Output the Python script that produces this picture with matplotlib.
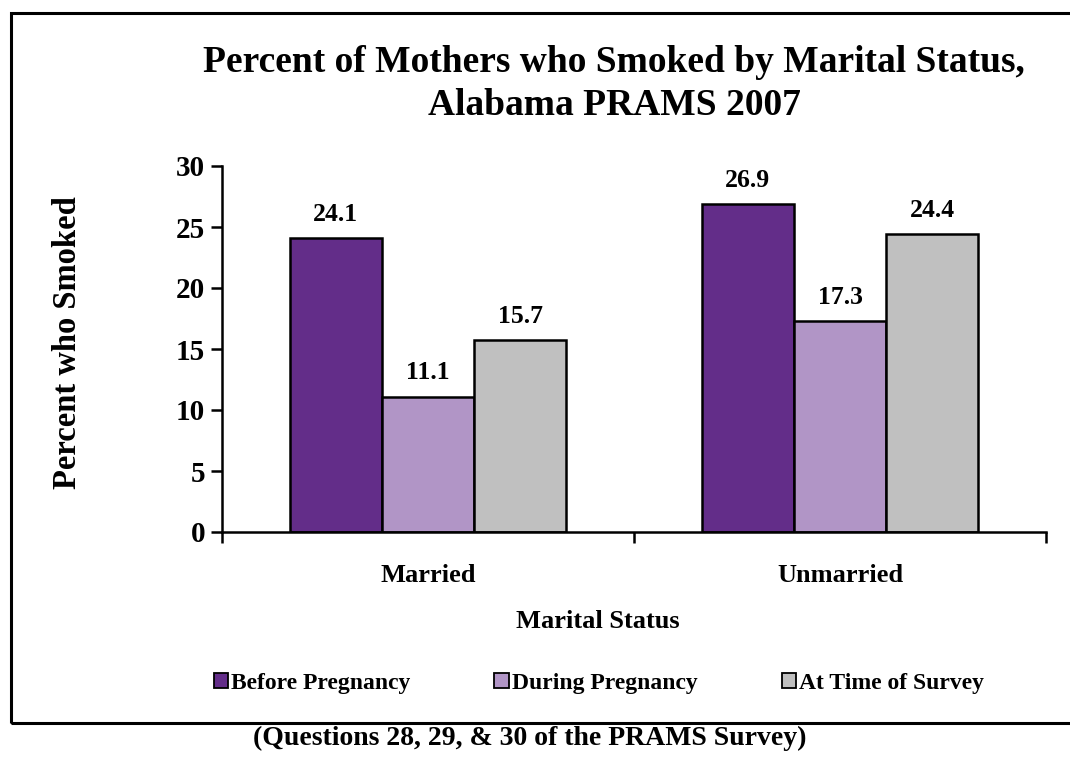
import numpy as np
import matplotlib
matplotlib.use('Agg')
import matplotlib.pyplot as plt
from matplotlib.patches import Rectangle

plt.rcParams['font.family'] = 'Liberation Serif'
plt.rcParams['font.weight'] = 'bold'

#Data
categories = ['Married', 'Unmarried']
series = ['Before Pregnancy', 'During Pregnancy', 'At Time of Survey']
before = [24.1, 26.9]
during = [11.1, 17.3]
survey = [15.7, 24.4]
colors = ['#632D89', '#B195C6', '#C0C0C0']

W, H = 1070, 758
fig = plt.figure(figsize=(W/100, H/100), dpi=100)

def fx(px):
    return px/W

def fy(py):
    return 1 - py/H

#outer frame (right side runs off the image)
fig.patches.append(Rectangle((fx(11), fy(723)), fx(1080)-fx(11), fy(13)-fy(723),
                             transform=fig.transFigure, fill=False, lw=2.2,
                             edgecolor='black', clip_on=False))

ax = fig.add_axes([fx(222), fy(532), fx(1046)-fx(222), fy(166)-fy(532)])

x = np.arange(len(categories))
w = 0.224
for i, (vals, c) in enumerate(zip([before, during, survey], colors)):
    pos = x + (i-1)*w
    ax.bar(pos, vals, w, color=c, edgecolor='black', linewidth=1.8, label=series[i], zorder=2)
    for p, v in zip(pos, vals):
        ax.text(p, v + 1.0, '%.1f' % v, ha='center', va='bottom', fontsize=18.5, fontweight='bold')

ax.set_xlim(-0.5, 1.5)
ax.set_ylim(0, 30)
ax.set_yticks(range(0, 31, 5))
ax.set_yticklabels([str(t) for t in range(0, 31, 5)], fontsize=21, fontweight='bold')
ax.tick_params(axis='y', length=8, width=1.8, direction='out', pad=4)
ax.set_xticks([-0.5, 0.5, 1.5])
ax.set_xticklabels([])
ax.tick_params(axis='x', length=8, width=1.8, direction='out')
ax.set_xticks(x, minor=True)
ax.set_xticklabels(categories, minor=True, fontsize=19, fontweight='bold')
ax.tick_params(axis='x', which='minor', length=0, pad=23)

for s in ['top', 'right']:
    ax.spines[s].set_visible(False)
for s in ['left', 'bottom']:
    ax.spines[s].set_linewidth(1.8)

fig.text(fx(68), fy(343), 'Percent who Smoked', rotation=90, ha='center', va='center',
         fontsize=23.5, fontweight='bold')
fig.text(fx(598), fy(621), 'Marital Status', ha='center', va='center',
         fontsize=19, fontweight='bold')

fig.text(fx(614), fy(84), 'Percent of Mothers who Smoked by Marital Status,\nAlabama PRAMS 2007',
         ha='center', va='center', fontsize=27, fontweight='bold', linespacing=1.3)

leg = fig.legend(loc='center', bbox_to_anchor=(fx(599), fy(683)), ncol=3, frameon=False,
                 prop={'size': 17, 'weight': 'bold'}, handlelength=0.6, handleheight=0.6,
                 handletextpad=0.15, columnspacing=3.55)
for h in leg.legend_handles:
    h.set_linewidth(1.3)

fig.text(fx(530), fy(738), '(Questions 28, 29, & 30 of the PRAMS Survey)', ha='center', va='center',
         fontsize=20, fontweight='bold')

fig.savefig('out.png', dpi=100)
